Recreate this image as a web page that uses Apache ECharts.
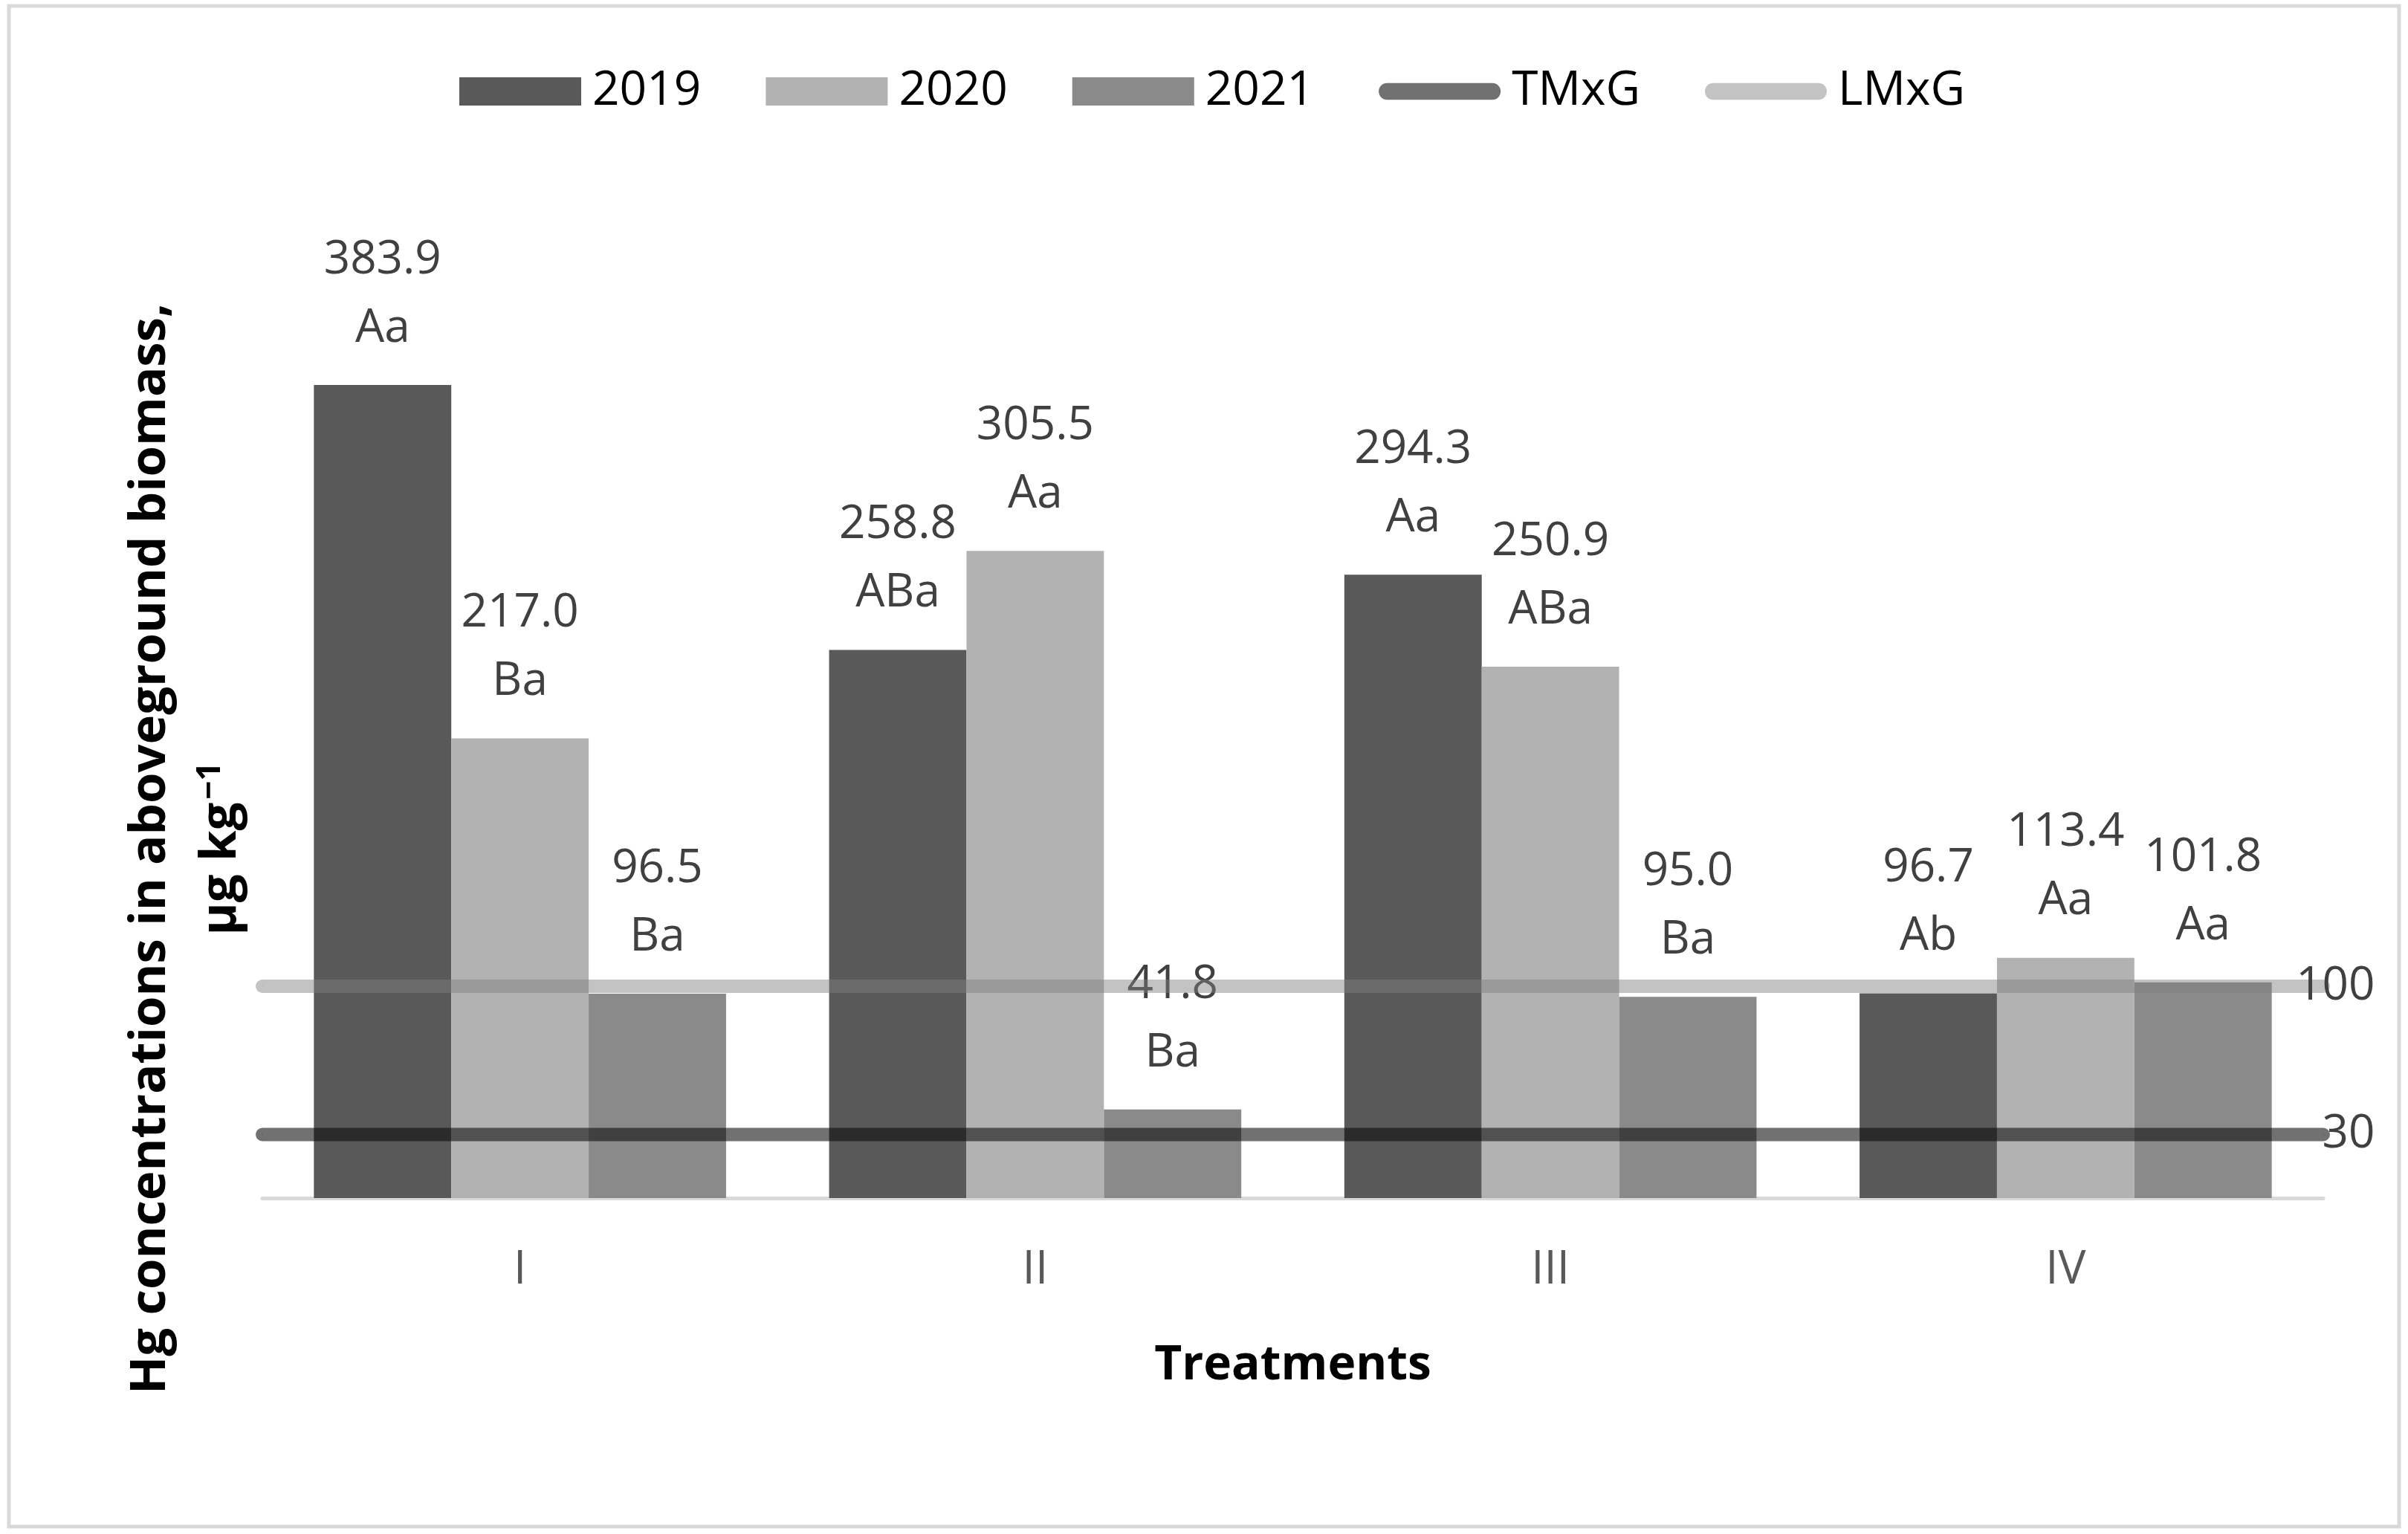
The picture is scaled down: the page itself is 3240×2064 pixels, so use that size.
<!DOCTYPE html>
<html lang="en">
<head>
  <meta charset="UTF-8">
  <title>Hg concentrations in aboveground biomass</title>
  <script src="https://cdn.jsdelivr.net/npm/echarts@6/dist/echarts.min.js"></script>
  <style>
    html, body { margin: 0; padding: 0; background: #fff; }
    #chart { width: 3240px; height: 2064px; }
  </style>
</head>
<body>
  <div id="chart"></div>
  <script>
    var treatments = ['I', 'II', 'III', 'IV']
    var hg2019 = [383.9, 258.8, 294.3, 96.7]
    var hg2020 = [217.0, 305.5, 250.9, 113.4]
    var hg2021 = [96.5, 41.8, 95.0, 101.8]
    var letters2019 = ['Aa', 'ABa', 'Aa', 'Ab']
    var letters2020 = ['Ba', 'Aa', 'ABa', 'Aa']
    var letters2021 = ['Ba', 'Ba', 'Ba', 'Aa']
    var tmxg = 30   // TMxG limit
    var lmxg = 100  // LMxG limit

    var font = '"Open Sans", "Liberation Sans", sans-serif'
    var lineIcon = 'path://M12,0 H164 A12,12 0 0 1 164,24 H12 A12,12 0 0 1 12,0 Z'

    var myChart = echarts.init(document.getElementById('chart'))

    function barLabel(letters) {
      return {
        show: true,
        position: 'top',
        distance: 30,
        fontFamily: font,
        fontSize: 62,
        lineHeight: 92,
        color: '#404040',
        formatter: function (p) {
          return p.value.toFixed(1) + '\n' + letters[p.dataIndex]
        }
      }
    }

    function barSeries(name, data, letters, color) {
      return {
        name: name,
        type: 'bar',
        data: data,
        barGap: '0%',
        barCategoryGap: '20%',
        itemStyle: { color: color },
        label: barLabel(letters),
        emphasis: { disabled: true }
      }
    }

    // horizontal limit line across the whole plot, label on the last point
    function limitSeries(name, value, color) {
      return {
        name: name,
        type: 'line',
        xAxisIndex: 1,
        color: color,
        clip: false,
        symbol: 'circle',
        symbolSize: 1,
        lineStyle: { width: 18, cap: 'round', color: color },
        data: [[0, value], { value: [1, value], label: { show: true } }],
        label: {
          show: false,
          position: 'right',
          distance: 69,
          align: 'right',
          fontFamily: font,
          fontSize: 62,
          color: '#404040',
          formatter: function () { return String(value) }
        },
        emphasis: { disabled: true },
        z: 3
      }
    }

    var option = {
      animation: false,
      backgroundColor: '#fff',
      textStyle: { fontFamily: font },
      legend: {
        left: 613,
        top: 86,
        itemWidth: 164,
        itemHeight: 38,
        itemGap: 87,
        textStyle: { fontFamily: font, fontSize: 64, lineHeight: 64, color: '#000', padding: [0, 0, 0, 10] },
        data: [
          { name: '2019', icon: 'rect' },
          { name: '2020', icon: 'rect' },
          { name: '2021', icon: 'rect' },
          { name: 'TMxG', icon: lineIcon },
          { name: 'LMxG', icon: lineIcon }
        ]
      },
      grid: { left: 353, right: 114, top: 472, bottom: 452, containLabel: false },
      xAxis: [
        {
          type: 'category',
          data: treatments,
          boundaryGap: true,
          axisLine: { lineStyle: { color: '#d9d9d9', width: 5 } },
          axisTick: { show: false },
          axisLabel: { fontFamily: font, fontSize: 62, color: '#595959', margin: 66 },
          name: 'Treatments',
          nameLocation: 'middle',
          nameGap: 194,
          nameTextStyle: { fontFamily: font, fontSize: 64, fontWeight: 'bold', color: '#000' }
        },
        { type: 'value', min: 0, max: 1, show: false }
      ],
      yAxis: { type: 'value', min: 0, max: 400, show: false },
      graphic: [
        {
          type: 'rect',
          silent: true,
          shape: { x: 12, y: 8, width: 3216, height: 2046 },
          style: { fill: 'none', stroke: '#d9d9d9', lineWidth: 5 }
        },
        {
          type: 'text',
          silent: true,
          x: 250,
          y: 1142,
          rotation: Math.PI / 2,
          style: {
            text: '{a|Hg concentrations in aboveground biomass,}\n{a|μg kg}{sup|−1}',
            align: 'center',
            verticalAlign: 'middle',
            rich: {
              a: { fontFamily: font, fontSize: 67, fontWeight: 'bold', color: '#000', lineHeight: 95 },
              sup: { fontFamily: font, fontSize: 44, fontWeight: 'bold', color: '#000', lineHeight: 95, padding: [0, 0, 28, 4] }
            }
          }
        }
      ],
      series: [
        barSeries('2019', hg2019, letters2019, '#595959'),
        barSeries('2020', hg2020, letters2020, '#b2b2b2'),
        barSeries('2021', hg2021, letters2021, '#8a8a8a'),
        limitSeries('TMxG', tmxg, 'rgba(10,10,10,0.58)'),
        limitSeries('LMxG', lmxg, 'rgba(128,128,128,0.47)')
      ]
    }
    myChart.setOption(option)
  </script>
</body>
</html>
